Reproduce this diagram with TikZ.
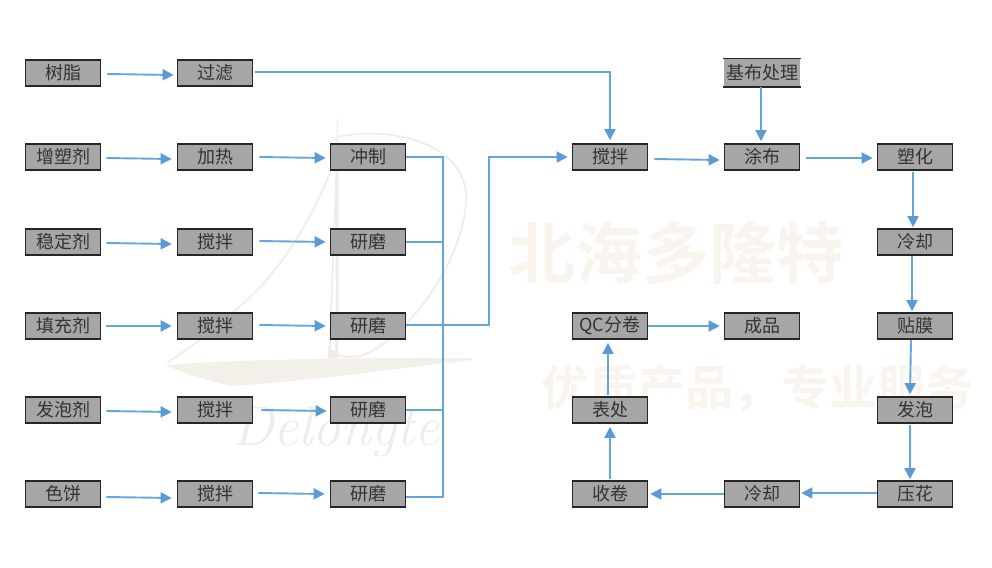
\documentclass[tikz,border=0pt]{standalone}
\usepackage{fontspec}
\newfontfamily\cjk{Noto Sans CJK SC}
\newfontfamily\cjkb{Noto Sans CJK SC Bold}
\definecolor{boxgray}{HTML}{A6A6A6}
\definecolor{flow}{HTML}{64A5DD}
\definecolor{flowhead}{HTML}{5B9BD5}
\definecolor{wmcn}{HTML}{F9F5EE}
\definecolor{wmsail}{HTML}{EEEDE6}
\definecolor{wmhull}{HTML}{F2F0E8}
\usetikzlibrary{arrows.meta,calc}
\tikzset{
  stepbox/.style={draw=black!85,line width=1.7pt,fill=boxgray,minimum width=75pt,minimum height=26pt,inner sep=0pt,font=\cjk\fontsize{18}{18}\selectfont,text=black!80},
  flowline/.style={draw=flow,line width=1.9pt},
  flowarrow/.style={flowline,-{Triangle[length=11pt,width=11pt,color=flowhead]}},
  wmtext/.style={text=wmcn,inner sep=0pt,font=\cjkb\fontsize{#1}{#1}\selectfont},
}
\begin{document}
\begin{tikzpicture}[x=1pt,y=-1pt]
\useasboundingbox (0,0) rectangle (992,567);
% watermark
\draw[wmsail,line width=1.8pt]
  (337,137) .. controls (395,125) and (468,145) .. (466,200)
            .. controls (464,265) and (400,345) .. (360,356)
            .. controls (348,358) and (336,356) .. (328,352)
  (332,167) .. controls (315,215) and (280,270) .. (250,297)
            .. controls (225,320) and (195,345) .. (168,362);
\fill[wmsail] (337,119) -- (338,119) .. controls (339,200) and (339,290) .. (338,358) -- (328,358) .. controls (331,290) and (335,200) .. (337,119) -- cycle;
\fill[white] (335,215) .. controls (336,260) and (336,310) .. (335,350) -- (331,350) .. controls (332,310) and (334,260) .. (335,215) -- cycle;
\fill[wmhull] (165,365) .. controls (260,358) and (380,358) .. (472,358) -- (472,360) .. controls (400,368) and (320,380) .. (232,386) .. controls (205,380) and (180,372) .. (165,365) -- cycle;
\node[inner sep=0pt,text=wmsail,font=\itshape\fontsize{56}{56}\selectfont] (wmd) at (336,432) {Delongte};
\node[wmtext=67] (wma) at (676,253) {北海多隆特};
\node[wmtext=48] (wmb) at (757,388) {优质产品，专业服务};
% boxes
\node[stepbox] (a1) at (63,73) {树脂};
\node[stepbox] (a2) at (63,157) {增塑剂};
\node[stepbox] (a3) at (63,242) {稳定剂};
\node[stepbox] (a4) at (63,326) {填充剂};
\node[stepbox] (a5) at (63,410) {发泡剂};
\node[stepbox] (a6) at (63,494) {色饼};
\node[stepbox] (b1) at (215,73) {过滤};
\node[stepbox] (b2) at (215,157) {加热};
\node[stepbox] (b3) at (215,242) {搅拌};
\node[stepbox] (b4) at (215,326) {搅拌};
\node[stepbox] (b5) at (215,410) {搅拌};
\node[stepbox] (b6) at (215,494) {搅拌};
\node[stepbox] (c2) at (368,157) {冲制};
\node[stepbox] (c3) at (368,242) {研磨};
\node[stepbox] (c4) at (368,326) {研磨};
\node[stepbox] (c5) at (368,410) {研磨};
\node[stepbox] (c6) at (368,494) {研磨};
\node[stepbox] (d2) at (610,157) {搅拌};
\node[stepbox] (e2) at (762,157) {涂布};
\node[stepbox] (f2) at (915,157) {塑化};
\node[stepbox] (f3) at (915,242) {冷却};
\node[stepbox] (f4) at (915,326) {贴膜};
\node[stepbox] (f5) at (915,410) {发泡};
\node[stepbox] (f6) at (915,494) {压花};
\node[stepbox] (e6) at (762,494) {冷却};
\node[stepbox] (d6) at (610,494) {收卷};
\node[stepbox] (d5) at (610,410) {表处};
\node[stepbox] (d4) at (610,326) {QC分卷};
\node[stepbox] (e4) at (762,326) {成品};
\node[stepbox,draw=none,fill=boxgray,minimum width=76pt,minimum height=27pt] (e1) at (762,73) {基布处理};
\draw[black!85,line width=1.7pt] (e1.north west) -- (e1.north east) (e1.south west) -- (e1.south east);
% free corner points
\coordinate (top) at (610,72);
\coordinate (bus) at (443,157);
\coordinate (busb) at (443,497);
\coordinate (busm) at (489,325);
\coordinate (bust) at (489,157);
% row arrows
\draw[flowarrow] ([shift={(6,1)}]a1.east) -- ([shift={(-3,2)}]b1.west);
\draw[flowarrow] ([shift={(5,1)}]a2.east) -- ([shift={(-5,2)}]b2.west);
\draw[flowarrow] ([shift={(5,1)}]a3.east) -- ([shift={(-5,2)}]b3.west);
\draw[flowarrow] ([shift={(5,0)}]a4.east) -- ([shift={(-5,0)}]b4.west);
\draw[flowarrow] ([shift={(5,1)}]a5.east) -- ([shift={(-5,2)}]b5.west);
\draw[flowarrow] ([shift={(5,3)}]a6.east) -- ([shift={(-5,4)}]b6.west);
\draw[flowarrow] ([shift={(6,0)}]b2.east) -- ([shift={(-4,1)}]c2.west);
\draw[flowarrow] ([shift={(6,-1)}]b3.east) -- ([shift={(-4,0)}]c3.west);
\draw[flowarrow] ([shift={(6,-1)}]b4.east) -- ([shift={(-4,0)}]c4.west);
\draw[flowarrow] ([shift={(8,0)}]b5.east) -- ([shift={(-3,1)}]c5.west);
\draw[flowarrow] ([shift={(5,-1)}]b6.east) -- ([shift={(-5,0)}]c6.west);
% top line
\draw[flowarrow] ([shift={(2,-1)}]b1.east) -- (top) -- ([shift={(0,-3)}]d2.north);
% bus
\draw[flowline,line width=1.6pt] (c2.east) -- (bus) -- (busb) -- (busb -| c6.east);
\draw[flowline,line width=1.6pt] (c3.east) -- (c3.east -| bus);
\draw[flowline,line width=1.6pt] (c5.east) -- (c5.east -| bus);
\draw[flowarrow] ([shift={(0,-1)}]c4.east) -- (busm) -- (bust) -- ([shift={(-4,0)}]d2.west);
% right group
\draw[flowarrow] ([shift={(6,2)}]d2.east) -- ([shift={(-4,3)}]e2.west);
\draw[flowarrow] ([shift={(6,1)}]e2.east) -- ([shift={(-4,1)}]f2.west);
\draw[flowarrow] ([shift={(-1,0)}]e1.south) -- ([shift={(-1,-2)}]e2.north);
\draw[flowarrow] ([shift={(-2,1)}]f2.south) -- ([shift={(-2,-1)}]f3.north);
\draw[flowarrow] ([shift={(-3,0)}]f3.south) -- ([shift={(-3,-1)}]f4.north);
\draw[flowarrow] ([shift={(-4,0)}]f4.south) -- ([shift={(-5,-2)}]f5.north);
\draw[flowarrow] ([shift={(-5,1)}]f5.south) -- ([shift={(-5,-1)}]f6.north);
\draw[flowarrow] ([shift={(0,-1)}]f6.west) -- ([shift={(1,-1)}]e6.east);
\draw[flowarrow] (e6.west) -- ([shift={(2,0)}]d6.east);
\draw[flowarrow] ([shift={(0,-1)}]d6.north) -- ([shift={(0,3)}]d5.south);
\draw[flowarrow] ([shift={(-2,-1)}]d5.north) -- ([shift={(-2,3)}]d4.south);
\draw[flowarrow] (d4.east) -- ([shift={(-4,0)}]e4.west);
\end{tikzpicture}
\end{document}
